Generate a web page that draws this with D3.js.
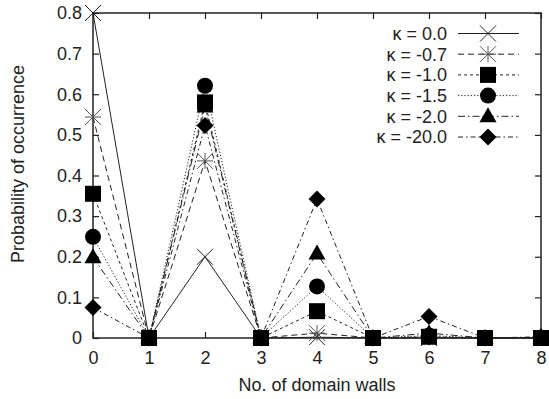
<!DOCTYPE html>
<html>
<head>
<meta charset="utf-8">
<script src="https://cdn.jsdelivr.net/npm/d3@7"></script>
<style>
  html, body { margin: 0; padding: 0; background: #fff; }
  svg text { font-family: "Liberation Sans", Arial, Helvetica, sans-serif; fill: #222; }
</style>
</head>
<body>
<svg id="chart" width="549" height="399"></svg>
<script>
// Number of domain walls on the horizontal axis
const walls = [0, 1, 2, 3, 4, 5, 6, 7, 8];
const xTickLabels = ["0", "1", "2", "3", "4", "5", "6", "7", "8"];
const yTickValues = [0, 0.1, 0.2, 0.3, 0.4, 0.5, 0.6, 0.7, 0.8];
const yTickLabels = ["0", "0.1", "0.2", "0.3", "0.4", "0.5", "0.6", "0.7", "0.8"];

// Probability of occurrence per coupling value
const kappaLabels = ["κ = 0.0", "κ = -0.7", "κ = -1.0", "κ = -1.5", "κ = -2.0", "κ = -20.0"];
const k00  = [0.800, 0, 0.200, 0, 0.002, 0, 0.000, 0, 0.000];
const k07  = [0.544, 0, 0.436, 0, 0.012, 0, 0.001, 0, 0.000];
const k10  = [0.355, 0, 0.580, 0, 0.066, 0, 0.003, 0, 0.000];
const k15  = [0.249, 0, 0.621, 0, 0.127, 0, 0.006, 0, 0.000];
const k20  = [0.199, 0, 0.570, 0, 0.208, 0, 0.012, 0, 0.001];
const k200 = [0.075, 0, 0.523, 0, 0.342, 0, 0.053, 0, 0.003];

const seriesValues = [k00, k07, k10, k15, k20, k200];
const dashes = ["none", "6,4", "3,3", "1.2,2", "7,3,1.5,3", "5,3,1.5,3"];
const markers = ["cross", "star", "square", "circle", "triangle", "diamond"];

const FS = 18;
const svg = d3.select("#chart");
const margin = { left: 93, right: 8, top: 13, bottom: 61 };
const W = 549, H = 399;

const x = d3.scaleLinear().domain([0, 8]).range([margin.left, W - margin.right]);
const y = d3.scaleLinear().domain([0, 0.8]).range([H - margin.bottom, margin.top]);

const x0 = x.range()[0], x1 = x.range()[1];
const y0 = y.range()[0], y1 = y.range()[1];
const tickLen = 6;

// Axes with inward ticks, mirrored on the opposite sides
const gAxes = svg.append("g");
const bottomAxis = d3.axisBottom(x).tickValues(walls)
  .tickFormat((d, i) => xTickLabels[i]).tickSizeInner(-tickLen).tickSizeOuter(0).tickPadding(13);
const leftAxis = d3.axisLeft(y).tickValues(yTickValues)
  .tickFormat((d, i) => yTickLabels[i]).tickSizeInner(-tickLen).tickSizeOuter(0).tickPadding(11);
const topAxis = d3.axisTop(x).tickValues(walls).tickFormat("").tickSizeInner(-tickLen).tickSizeOuter(0);
const rightAxis = d3.axisRight(y).tickValues(yTickValues).tickFormat("").tickSizeInner(-tickLen).tickSizeOuter(0);

gAxes.append("g").attr("transform", `translate(0,${y0})`).call(bottomAxis);
gAxes.append("g").attr("transform", `translate(${x0},0)`).call(leftAxis);
gAxes.append("g").attr("transform", `translate(0,${y1})`).call(topAxis);
gAxes.append("g").attr("transform", `translate(${x1},0)`).call(rightAxis);

gAxes.selectAll(".domain").remove();
gAxes.selectAll(".tick line").attr("stroke", "#222").attr("stroke-width", 1.2);
gAxes.selectAll(".tick text").attr("font-size", FS).attr("fill", "#222")
  .style("font-family", "'Liberation Sans', Arial, sans-serif");

// Frame
svg.append("rect").attr("x", x0).attr("y", y1).attr("width", x1 - x0).attr("height", y0 - y1)
  .attr("fill", "none").attr("stroke", "#222").attr("stroke-width", 1.5);

// Axis titles
svg.append("text").attr("x", 317).attr("y", 391).attr("text-anchor", "middle")
  .attr("font-size", FS).text("No. of domain walls");
svg.append("text").attr("transform", "translate(24,164) rotate(-90)").attr("text-anchor", "middle")
  .attr("font-size", FS).text("Probability of occurrence");

// Marker shapes
function drawMarker(g, type, cx, cy) {
  const s = 8;
  if (type === "cross") {
    g.append("path").attr("d", `M${cx - s},${cy - s}L${cx + s},${cy + s}M${cx - s},${cy + s}L${cx + s},${cy - s}`)
      .attr("stroke", "#222").attr("stroke-width", 1).attr("fill", "none");
  } else if (type === "star") {
    g.append("path").attr("d", `M${cx - s},${cy - s}L${cx + s},${cy + s}M${cx - s},${cy + s}L${cx + s},${cy - s}M${cx},${cy - s}L${cx},${cy + s}M${cx - s},${cy}L${cx + s},${cy}`)
      .attr("stroke", "#555").attr("stroke-width", 1).attr("fill", "none");
  } else if (type === "square") {
    g.append("rect").attr("x", cx - 8).attr("y", cy - 8).attr("width", 16).attr("height", 16).attr("fill", "#000");
  } else if (type === "circle") {
    g.append("circle").attr("cx", cx).attr("cy", cy).attr("r", 8).attr("fill", "#000");
  } else if (type === "triangle") {
    g.append("path").attr("d", `M${cx},${cy - 9}L${cx + 8.5},${cy + 6}L${cx - 8.5},${cy + 6}Z`).attr("fill", "#000");
  } else if (type === "diamond") {
    g.append("path").attr("d", `M${cx},${cy - 8.5}L${cx + 8.5},${cy}L${cx},${cy + 8.5}L${cx - 8.5},${cy}Z`).attr("fill", "#000");
  }
}

const line = d3.line().x((d, i) => x(walls[i])).y(d => y(d));
const plot = svg.append("g");

seriesValues.forEach((vals, si) => {
  plot.append("path").datum(vals).attr("d", line)
    .attr("fill", "none").attr("stroke", "#222").attr("stroke-width", 1)
    .attr("stroke-dasharray", dashes[si]);
});
seriesValues.forEach((vals, si) => {
  const g = plot.append("g");
  vals.forEach((v, i) => drawMarker(g, markers[si], x(walls[i]), y(v)));
});

// Legend
const legend = svg.append("g");
const rowY = d => 33.5 + d * 20.7;
kappaLabels.forEach((label, i) => {
  legend.append("text").attr("x", 447).attr("y", rowY(i)).attr("dy", "0.35em")
    .attr("text-anchor", "end").attr("font-size", FS).text(label);
  legend.append("line").attr("x1", 458).attr("x2", 519).attr("y1", rowY(i)).attr("y2", rowY(i))
    .attr("stroke", "#222").attr("stroke-width", 1).attr("stroke-dasharray", dashes[i]);
  drawMarker(legend, markers[i], 488, rowY(i));
});
</script>
</body>
</html>
